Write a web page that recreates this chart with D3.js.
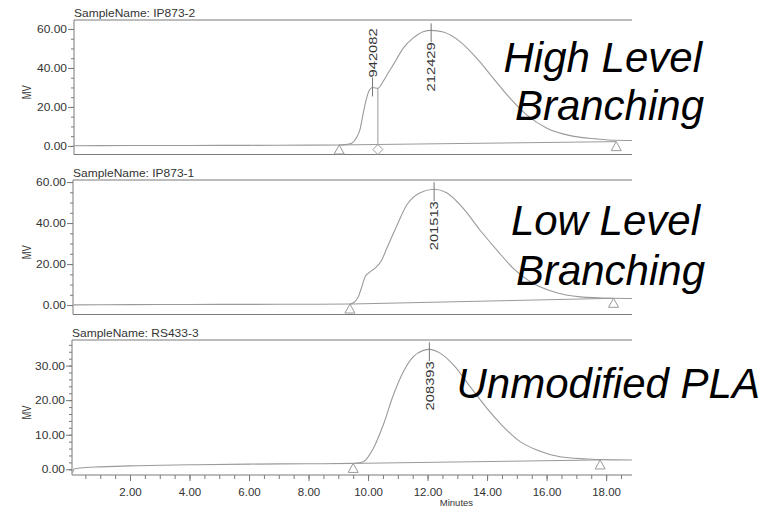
<!DOCTYPE html>
<html>
<head>
<meta charset="utf-8">
<script src="https://cdn.jsdelivr.net/npm/d3@7"></script>
<style>
  body { margin: 0; background: #fff; }
  svg { display: block; }
</style>
</head>
<body>
<svg id="chart" width="778" height="508"></svg>
<script>
// Chromatogram traces: retention time (minutes) and detector response (mV)
const ip8732Minutes = [0.1, 2, 4, 6, 8, 9.03, 9.3, 9.45, 9.62, 9.73, 9.84, 9.96, 10.05, 10.15, 10.25, 10.33, 10.51, 10.68, 10.85, 11.19, 11.52, 11.85, 12.12, 12.53, 13.09, 13.65, 14.21, 14.77, 15.33, 16.01, 16.79, 17.69, 18.34, 18.87];
const ip8732Mv      = [0.1, 0.2, 0.25, 0.3, 0.4, 0.5, 0.8, 1.4, 4.5, 8.5, 17, 25, 28.8, 30.0, 29.7, 29.6, 33.2, 37.5, 41.7, 50.3, 55.4, 58.6, 59.3, 58.4, 53.5, 45.0, 34.7, 24.5, 15.9, 9.1, 5.3, 3.6, 2.9, 2.8];

const ip8731Minutes = [0.1, 2, 4, 6, 8, 9.39, 9.51, 9.67, 9.79, 9.90, 10.07, 10.29, 10.46, 10.63, 10.80, 10.96, 11.30, 11.75, 12.22, 12.64, 13.20, 13.76, 14.33, 14.88, 15.45, 16.23, 17.13, 18.25, 18.87];
const ip8731Mv      = [0.1, 0.2, 0.3, 0.35, 0.4, 0.5, 1.1, 4.0, 8.9, 13.8, 16.2, 18.7, 22.0, 27.7, 33.3, 38.5, 48.8, 54.8, 56.5, 54.8, 47.2, 36.6, 26.8, 17.9, 11.4, 6.5, 4.0, 3.3, 3.2];

const rs4333Minutes = [0.07, 0.12, 0.5, 1, 2, 4, 6, 8, 9.5, 9.62, 9.84, 10.18, 10.51, 10.85, 11.19, 11.52, 11.86, 12.06, 12.42, 12.87, 13.43, 13.99, 14.55, 15.11, 15.67, 16.45, 17.35, 17.80, 18.87];
const rs4333Mv      = [-1.0, 0.1, 0.5, 0.7, 1.0, 1.3, 1.5, 1.6, 1.7, 1.8, 2.2, 6.1, 12.8, 21.5, 28.3, 32.6, 34.4, 34.7, 33.6, 30.2, 23.9, 17.7, 12.3, 8.0, 5.6, 3.65, 3.0, 2.8, 2.7];

// Sample names and descriptions
const sampleNames = ["IP873-2", "IP873-1", "RS433-3"];
const sampleDescriptions = [["High Level", "Branching"], ["Low Level", "Branching"], ["Unmodified PLA"]];

// Integration baselines: [start minute, start mV, end minute, end mV]
const baselines = [[9.03, 0.5, 18.34, 2.2], [9.39, 0.5, 18.25, 3.3], [9.5, 1.7, 17.8, 2.7]];

// Labelled peaks: retention time and molecular weight label
const peakMinutes = [[10.15, 12.12], [12.22], [12.06]];
const peakLabels  = [["942082", "212429"], ["201513"], ["208393"]];

// Valley drop line between the two peaks of IP873-2
const dropMinutes = [[10.33], [], []];

// Axis ticks
const mvTicksMajor = [[0, 20, 40, 60], [0, 20, 40, 60], [0, 10, 20, 30]];
const mvTickStep   = [5, 5, 2];
const minuteTicks  = [2, 4, 6, 8, 10, 12, 14, 16, 18];
const minuteMinorStep = 0.5;

const traces = [
  { t: ip8732Minutes, v: ip8732Mv },
  { t: ip8731Minutes, v: ip8731Mv },
  { t: rs4333Minutes, v: rs4333Mv }
];

// Panel frames (pixels) and y domains
const frames = [
  { left: 74, top: 20,  bottom: 154.5, y0: 146,   yTop: 64.6, yBot: -4.4,  labelBelow: [false, true] },
  { left: 73, top: 180, bottom: 314.5, y0: 305,   yTop: 61.0, yBot: -4.6,  labelBelow: [true] },
  { left: 72, top: 340, bottom: 475,   y0: 469.3, yTop: 37.4, yBot: -1.65, labelBelow: [true] }
];
const rightEdge = 632;

const svg = d3.select("#chart");
const FONT = "'Liberation Sans', Arial, Helvetica, sans-serif";
const axisColor = "#7a7a7a";
const traceColor = "#9a9a9a";
const textColor = "#333";

const x = d3.scaleLinear().domain([0, 18.87]).range([70.5, rightEdge]);

function valueAt(tr, t) {
  const i = tr.t.indexOf(t);
  if (i >= 0) return tr.v[i];
  const j = d3.bisectLeft(tr.t, t);
  const a = tr.t[j - 1], b = tr.t[j];
  return tr.v[j - 1] + (tr.v[j] - tr.v[j - 1]) * (t - a) / (b - a);
}

frames.forEach((f, p) => {
  const y = d3.scaleLinear().domain([f.yBot, f.yTop]).range([f.bottom, f.top]);
  const g = svg.append("g");
  const tr = traces[p];

  // frame: left axis, top and bottom rules
  g.append("line").attr("x1", f.left).attr("x2", f.left).attr("y1", f.top).attr("y2", f.bottom)
    .attr("stroke", axisColor).attr("stroke-width", 1);
  g.append("line").attr("x1", f.left).attr("x2", rightEdge).attr("y1", f.top).attr("y2", f.top)
    .attr("stroke", axisColor).attr("stroke-width", 1);
  g.append("line").attr("x1", f.left).attr("x2", rightEdge).attr("y1", f.bottom).attr("y2", f.bottom)
    .attr("stroke", axisColor).attr("stroke-width", 1);

  // y axis: minor ticks
  const minor = d3.range(Math.ceil(f.yBot / mvTickStep[p]) * mvTickStep[p], f.yTop, mvTickStep[p]);
  const minorAxis = d3.axisLeft(y).tickValues(minor).tickSize(3).tickFormat("");
  const gm = g.append("g").attr("transform", `translate(${f.left},0)`).call(minorAxis);
  gm.select(".domain").remove();
  gm.selectAll("line").attr("stroke", axisColor);

  // y axis: major ticks with labels
  const majorAxis = d3.axisLeft(y).tickValues(mvTicksMajor[p]).tickSize(6).tickFormat(d3.format(".2f"));
  const ga = g.append("g").attr("transform", `translate(${f.left},0)`).call(majorAxis);
  ga.select(".domain").remove();
  ga.selectAll("line").attr("stroke", axisColor);
  ga.selectAll("text")
    .attr("x", 0).attr("dy", "0.35em")
    .attr("transform", "translate(-7,0) scale(1.2,1)")
    .attr("fill", textColor)
    .style("font-family", FONT).style("font-size", "10px");

  // y axis title
  g.append("text")
    .attr("transform", `translate(27,${(f.top + f.bottom) / 2 + 5}) rotate(-90) scale(0.85,1.1)`)
    .attr("text-anchor", "middle").attr("dy", "0.35em")
    .attr("fill", textColor)
    .style("font-family", FONT).style("font-size", "11px")
    .text("MV");

  // sample name
  g.append("text")
    .attr("transform", `translate(${f.left},${f.top - 3}) scale(1.2,1)`)
    .attr("fill", textColor)
    .style("font-family", FONT).style("font-size", "10px")
    .text("SampleName: " + sampleNames[p]);

  // integration baseline
  const b = baselines[p];
  g.append("line")
    .attr("x1", x(b[0])).attr("y1", y(b[1])).attr("x2", x(b[2])).attr("y2", y(b[3]))
    .attr("stroke", traceColor).attr("stroke-width", 1);

  // trace
  const line = d3.line().x((d, i) => x(tr.t[i])).y((d, i) => y(tr.v[i])).curve(d3.curveMonotoneX);
  g.append("path").datum(tr.t).attr("d", line)
    .attr("fill", "none").attr("stroke", traceColor).attr("stroke-width", 1.1);

  // start / end triangles
  [[b[0], b[1]], [b[2], b[3]]].forEach(([t, v]) => {
    const cx = x(t), cy = y(v);
    g.append("path")
      .attr("d", `M${cx},${cy} L${cx + 5},${cy + 9} L${cx - 5},${cy + 9} Z`)
      .attr("fill", "#fff").attr("stroke", traceColor).attr("stroke-width", 1);
  });

  // valley drop lines with diamond markers
  dropMinutes[p].forEach(t => {
    const cx = x(t);
    const bv = b[1] + (b[3] - b[1]) * (t - b[0]) / (b[2] - b[0]);
    const top = y(valueAt(tr, t)), bot = y(bv);
    g.append("line").attr("x1", cx).attr("x2", cx).attr("y1", top).attr("y2", bot)
      .attr("stroke", traceColor).attr("stroke-width", 1);
    g.append("path")
      .attr("d", `M${cx},${bot} L${cx + 5},${bot + 5} L${cx},${bot + 10} L${cx - 5},${bot + 5} Z`)
      .attr("fill", "#fff").attr("stroke", traceColor).attr("stroke-width", 1);
  });

  // peak markers and labels
  peakMinutes[p].forEach((t, k) => {
    const cx = x(t), cy = y(valueAt(tr, t));
    const below = f.labelBelow[k];
    const y1 = below ? cy - 7 : cy - 10;
    const y2 = below ? cy + 12 : cy + 9;
    g.append("line").attr("x1", cx).attr("x2", cx).attr("y1", y1).attr("y2", y2)
      .attr("stroke", "#777").attr("stroke-width", 1);
    g.append("text")
      .attr("transform", `translate(${cx},${below ? y2 : y1}) rotate(-90) scale(1.28,1)`)
      .attr("text-anchor", below ? "end" : "start")
      .attr("dy", "0.36em")
      .attr("fill", textColor)
      .style("font-family", FONT).style("font-size", "11.5px")
      .text(peakLabels[p][k]);
  });

  // x axis on the bottom panel
  if (p === 2) {
    const minorX = d3.range(minuteMinorStep, 18.87, minuteMinorStep);
    const gx1 = g.append("g").attr("transform", `translate(0,${f.bottom})`)
      .call(d3.axisBottom(x).tickValues(minorX).tickSize(4).tickFormat(""));
    gx1.select(".domain").remove();
    gx1.selectAll("line").attr("stroke", axisColor);
    const gx = g.append("g").attr("transform", `translate(0,${f.bottom})`)
      .call(d3.axisBottom(x).tickValues(minuteTicks).tickSize(6).tickPadding(7).tickFormat(d3.format(".2f")));
    gx.select(".domain").remove();
    gx.selectAll("line").attr("stroke", axisColor);
    gx.selectAll("text").attr("fill", textColor)
      .style("font-family", FONT).style("font-size", "11.5px");
    g.append("text")
      .attr("x", x(12.97)).attr("y", 506)
      .attr("text-anchor", "middle").attr("fill", textColor)
      .style("font-family", FONT).style("font-size", "9.5px")
      .text("Minutes");
  }
});

// large sample descriptions
const descPos = [
  [[705, 72], [707, 120]],
  [[703, 235], [708, 285]],
  [[763, 398]]
];
sampleDescriptions.forEach((lines, p) => {
  lines.forEach((txt, k) => {
    svg.append("text")
      .attr("x", descPos[p][k][0] - 3).attr("y", descPos[p][k][1])
      .attr("text-anchor", "end")
      .attr("fill", "#000")
      .style("font-family", FONT).style("font-size", "42px").style("font-style", "italic")
      .text(txt);
  });
});
</script>
</body>
</html>
